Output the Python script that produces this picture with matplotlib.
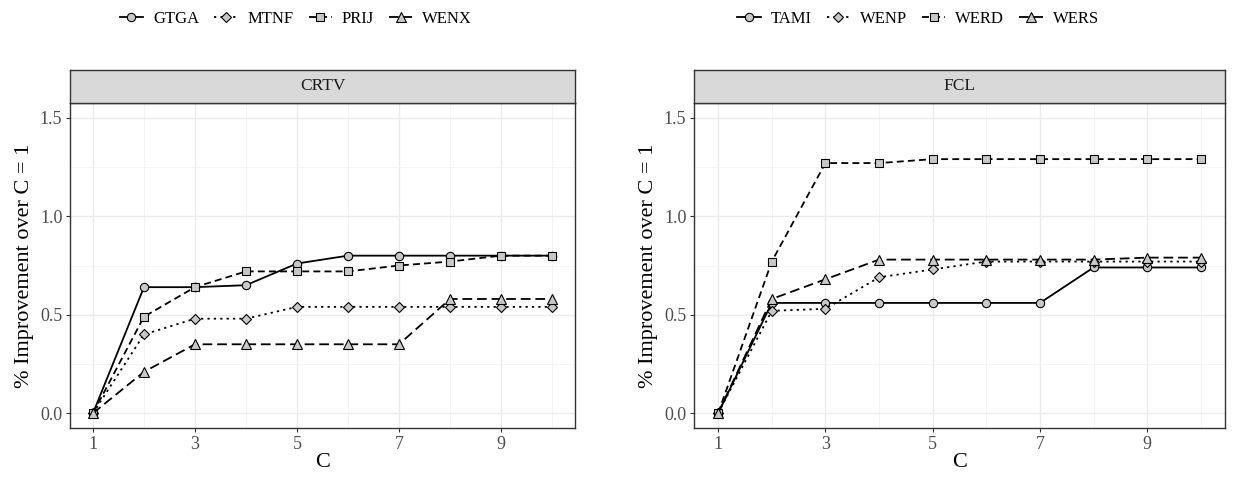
import matplotlib.pyplot as plt

plt.rcParams['font.family'] = ['Liberation Serif', 'DejaVu Serif']
plt.rcParams['lines.scale_dashes'] = False

C = [1, 2, 3, 4, 5, 6, 7, 8, 9, 10]

# CRTV panel
crtv_names = ['GTGA', 'MTNF', 'PRIJ', 'WENX']
gtga = [0, 0.64, 0.64, 0.65, 0.76, 0.80, 0.80, 0.80, 0.80, 0.80]
mtnf = [0, 0.40, 0.48, 0.48, 0.54, 0.54, 0.54, 0.54, 0.54, 0.54]
prij = [0, 0.49, 0.64, 0.72, 0.72, 0.72, 0.75, 0.77, 0.80, 0.80]
wenx = [0, 0.21, 0.35, 0.35, 0.35, 0.35, 0.35, 0.58, 0.58, 0.58]

# FCL panel
fcl_names = ['TAMI', 'WENP', 'WERD', 'WERS']
tami = [0, 0.56, 0.56, 0.56, 0.56, 0.56, 0.56, 0.74, 0.74, 0.74]
wenp = [0, 0.52, 0.53, 0.69, 0.73, 0.77, 0.77, 0.77, 0.77, 0.77]
werd = [0, 0.77, 1.27, 1.27, 1.29, 1.29, 1.29, 1.29, 1.29, 1.29]
wers = [0, 0.58, 0.68, 0.78, 0.78, 0.78, 0.78, 0.78, 0.79, 0.79]

markers = ['o', 'D', 's', '^']
msizes = [6, 5, 5.5, 7]
dashes = [None, (1.6, 3), (5, 3), (7, 3.5)]

W, H = 1235, 479
fig = plt.figure(figsize=(W / 100, H / 100), dpi=100)


def panel(x0, x1, title, names, series, legend_cx):
    y0, ystrip, y1 = 70, 103, 428
    ax = fig.add_axes([x0 / W, (H - y1) / H, (x1 - x0) / W, (y1 - ystrip) / H])
    handles = []
    for name, ys, m, ms, d in zip(names, series, markers, msizes, dashes):
        ln, = ax.plot(C, ys, color='black', lw=1.3, marker=m, ms=ms,
                      mfc='#C8C8C8', mec='black', mew=0.8, label=name)
        if d is not None:
            ln.set_dashes(d)
        handles.append(ln)
    ax.set_xlim(0.55, 10.45)
    ax.set_ylim(-0.075, 1.575)
    ax.set_xticks([1, 3, 5, 7, 9])
    ax.set_xticks([2, 4, 6, 8, 10], minor=True)
    ax.set_yticks([0, 0.5, 1.0, 1.5])
    ax.set_yticks([0.25, 0.75, 1.25], minor=True)
    ax.set_yticklabels(['0.0', '0.5', '1.0', '1.5'])
    ax.grid(which='major', color='#EBEBEB', lw=1.0)
    ax.grid(which='minor', color='#F3F3F3', lw=0.6)
    ax.set_axisbelow(True)
    ax.tick_params(which='major', length=3, color='#333333', labelsize=13,
                   labelcolor='#4D4D4D', width=0.8, pad=2.5)
    ax.tick_params(which='minor', length=0)
    for s in ax.spines.values():
        s.set_color('#333333')
        s.set_linewidth(1.0)
    ax.set_xlabel('C', fontsize=16, labelpad=0)
    ax.set_ylabel('% Improvement over C = 1', fontsize=16, labelpad=4)

    # facet strip
    sax = fig.add_axes([x0 / W, (H - ystrip) / H, (x1 - x0) / W, (ystrip - y0) / H])
    sax.set_facecolor('#D9D9D9')
    sax.set_xticks([])
    sax.set_yticks([])
    for s in sax.spines.values():
        s.set_color('#333333')
        s.set_linewidth(1.0)
    sax.text(0.5, 0.5, title, ha='center', va='center', fontsize=12.5,
             color='#1A1A1A', transform=sax.transAxes)

    fig.legend(handles=handles, loc='center', ncol=4,
               bbox_to_anchor=(legend_cx / W, (H - 19) / H), frameon=False,
               fontsize=12, handlelength=1.4, handletextpad=0.6,
               columnspacing=0.9)
    return ax


panel(70, 575, 'CRTV', crtv_names, [gtga, mtnf, prij, wenx], 296)
panel(694, 1225, 'FCL', fcl_names, [tami, wenp, werd, wers], 918)

fig.savefig('out.png', dpi=100)
